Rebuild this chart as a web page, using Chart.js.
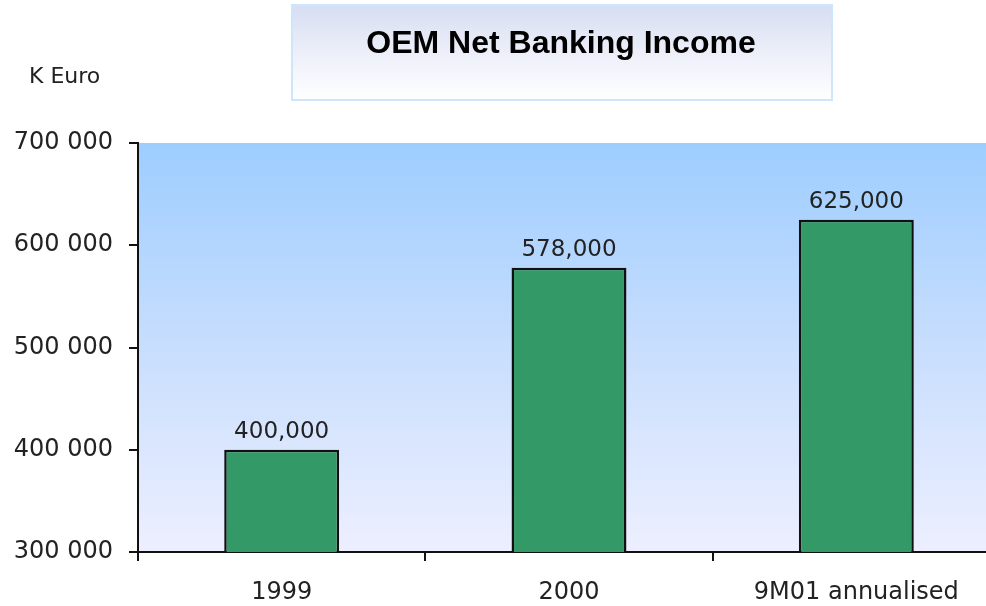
<!DOCTYPE html>
<html>
<head>
<meta charset="utf-8">
<script src="https://cdn.jsdelivr.net/npm/chart.js@4"></script>
<style>
  html, body { margin: 0; padding: 0; background: #fff; overflow: hidden; }
  canvas { display: block; }
</style>
</head>
<body>
<canvas id="myChart" width="1000" height="606"></canvas>
<script>
const categories = ["1999", "2000", "9M01 annualised"];
const income = [400000, 578000, 625000];
const yTicks = [300000, 400000, 500000, 600000, 700000];
const chartTitle = "OEM Net Banking Income";
const unitLabel = "K Euro";

const tickFont = { family: "DejaVu Sans", size: 24 };

// background of the plot + title box
const decor = {
  id: "decor",
  beforeDraw(chart) {
    const { ctx, chartArea: a } = chart;
    ctx.save();
    // plot area gradient
    let g = ctx.createLinearGradient(0, a.top, 0, a.bottom);
    g.addColorStop(0, "#9dcdff");
    g.addColorStop(0.5, "#c8defd");
    g.addColorStop(1, "#edefff");
    ctx.fillStyle = g;
    ctx.fillRect(a.left, a.top, a.right - a.left, a.bottom - a.top);

    // title box
    g = ctx.createLinearGradient(0, 4, 0, 100);
    g.addColorStop(0, "#d6ddf2");
    g.addColorStop(0.5, "#eceff9");
    g.addColorStop(1, "#ffffff");
    ctx.fillStyle = g;
    ctx.fillRect(292, 5, 540, 95);
    ctx.strokeStyle = "#cde6fb";
    ctx.lineWidth = 2;
    ctx.strokeRect(292, 5, 540, 95);

    ctx.fillStyle = "#000";
    ctx.font = "bold 32px 'Liberation Sans', Arial, sans-serif";
    ctx.textAlign = "center";
    ctx.textBaseline = "alphabetic";
    ctx.fillText(chartTitle, 561, 53);

    ctx.fillStyle = "#222";
    ctx.font = "22px 'DejaVu Sans'";
    ctx.textAlign = "left";
    ctx.textBaseline = "middle";
    ctx.fillText(unitLabel, 29, 77);
    ctx.restore();
  }
};

// value labels over the bars
const valueLabels = {
  id: "valueLabels",
  afterDatasetsDraw(chart) {
    const { ctx } = chart;
    const meta = chart.getDatasetMeta(0);
    ctx.save();
    ctx.fillStyle = "#222";
    ctx.font = "23px 'DejaVu Sans'";
    ctx.textAlign = "center";
    ctx.textBaseline = "bottom";
    meta.data.forEach((bar, i) => {
      ctx.fillText(income[i].toLocaleString("en-US"), bar.x, bar.y - 6);
    });
    ctx.restore();
  }
};

new Chart(document.getElementById("myChart").getContext("2d"), {
  type: "bar",
  data: {
    labels: categories,
    datasets: [
      {
        data: income,
        backgroundColor: "#339966",
        borderColor: "#111",
        borderWidth: 2.5,
        borderSkipped: false,
        barPercentage: 0.8,
        categoryPercentage: 0.5
      }
    ]
  },
  options: {
    responsive: false,
    animation: false,
    layout: { padding: { top: 143, left: 0, right: 0, bottom: 0 } },
    plugins: {
      legend: { display: false },
      title: { display: false },
      tooltip: { enabled: false }
    },
    scales: {
      x: {
        afterFit(scale) { scale.height = 54; },
        grid: { drawOnChartArea: false, tickLength: 9, color: "#111", lineWidth: 2 },
        border: { color: "#111", width: 2 },
        ticks: { color: "#222", font: tickFont, padding: 17, maxRotation: 0 }
      },
      y: {
        min: 300000,
        max: 700000,
        afterFit(scale) { scale.width = 138; },
        afterBuildTicks(scale) { scale.ticks = yTicks.map(v => ({ value: v })); },
        grid: { drawOnChartArea: false, tickLength: 9, color: "#111", lineWidth: 2 },
        border: { color: "#111", width: 2 },
        ticks: {
          color: "#222",
          font: tickFont,
          padding: 16,
          callback: v => v.toLocaleString("en-US").replace(/,/g, " ")
        }
      }
    }
  },
  plugins: [decor, valueLabels]
});
</script>
</body>
</html>
